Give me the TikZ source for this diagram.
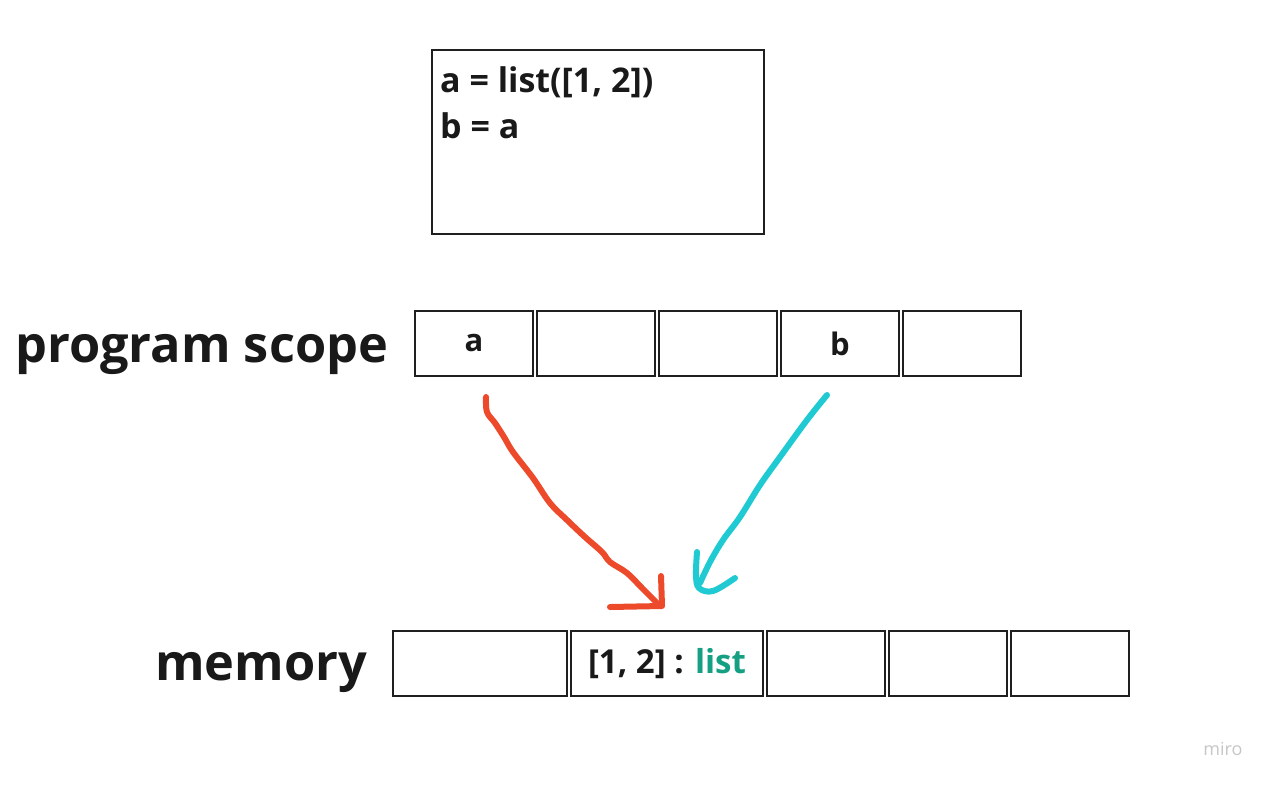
\documentclass[tikz,border=0pt]{standalone}
\usepackage{fontspec}
\setmainfont{Open Sans}
\begin{document}
\begin{tikzpicture}[x=1pt,y=-1pt,
  ink/.style={draw=black!88, line width=2.6pt},
  codebox/.style={ink, minimum width=332pt, minimum height=184pt, inner sep=0pt},
  cell/.style={ink, minimum height=65pt, inner sep=0pt, text=black!90,
    font=\fontsize{31}{36}\selectfont\bfseries},
  big/.style={text=black!90, font=\fontsize{50.5}{60}\selectfont\bfseries, inner sep=0pt},
  codetext/.style={text=black!90, font=\fontsize{34}{46}\selectfont\bfseries, inner sep=0pt},
  hand/.style={line width=6pt, line cap=round, line join=round},
  refA/.style={hand, draw=redarrow},
  refB/.style={hand, draw=cyanarrow}]
\definecolor{redarrow}{HTML}{EC4A2A}
\definecolor{cyanarrow}{HTML}{1FCAD3}
\definecolor{typegreen}{HTML}{16A083}
\useasboundingbox[fill=white] (0,0) rectangle (1273,785);

% source code
\node[codebox] (code) at (598,142) {};
\node[codetext, anchor=base west] (line1) at (440,92) {a = list([1, 2])};
\node[codetext, anchor=base west] (line2) at (440,138) {b = a};

% program scope row
\node[big, anchor=base west] (scopelbl) at (15,362) {program scope};
\node[cell, minimum width=118pt] (p1) at (474,343.5) {a};
\node[cell, minimum width=118pt] (p2) at (596,343.5) {};
\node[cell, minimum width=118pt] (p3) at (718,343.5) {};
\node[cell, minimum width=118pt] (p4) at (840,343.5) {b};
\node[cell, minimum width=118pt] (p5) at (962,343.5) {};

% memory row
\node[big, anchor=base west] (memlbl) at (155,680) {memory};
\node[cell, minimum width=174pt] (m1) at (480,663.5) {};
\node[cell, minimum width=192pt, font=\fontsize{33}{38}\selectfont\bfseries] (m2) at (667,663.5) {[1, 2] : \textcolor{typegreen}{list}};
\node[cell, minimum width=118pt] (m3) at (826,663.5) {};
\node[cell, minimum width=118pt] (m4) at (948,663.5) {};
\node[cell, minimum width=118pt] (m5) at (1070,663.5) {};

% a -> list object
\draw[refA] plot[smooth, tension=0.6] coordinates {(486,397) (487,412) (495,423) (504,437) (513,452) (533,478) (550,503) (567,520) (585,537) (602,552) (610,562) (627,573) (642,588) (657,603)};
\draw[refA] (661,576) -- (662,606) -- (610,607);

% b -> list object
\draw[refB] plot[smooth, tension=0.6] coordinates {(827,395) (807,420) (780,457) (760,485) (740,517) (723,540) (710,562) (700,583)};
\draw[refB] plot[smooth, tension=0.6] coordinates {(697,552) (696,575) (699,588) (713,591) (735,578)};

% watermark
\node[text=black!22, font=\fontsize{18}{20}\selectfont, inner sep=0pt] (wm) at (1223,749) {miro};
\end{tikzpicture}
\end{document}
